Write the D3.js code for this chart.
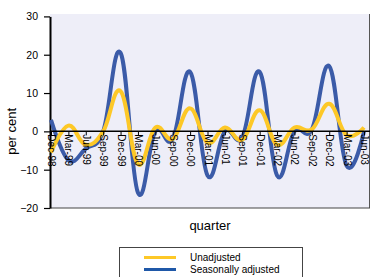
<!DOCTYPE html>
<html lang='en'>
<head>
    <meta charset='UTF-8'>
    <title>Quarterly change</title>
    <style>
        body {
            margin: 0;
            background: #fff;
            font-family: 'Liberation Sans', Arial, sans-serif;
        }
        .line {
            fill: none;
            stroke-width: 4px;
        }
    </style>
</head>
<body>
    <div id="chart"></div>
    <script src='https://d3js.org/d3.v7.min.js'></script>
    <script>
        const quarters = ['Dec-98', 'Mar-99', 'Jun-99', 'Sep-99', 'Dec-99', 'Mar-00', 'Jun-00', 'Sep-00',
            'Dec-00', 'Mar-01', 'Jun-01', 'Sep-01', 'Dec-01', 'Mar-02', 'Jun-02', 'Sep-02',
            'Dec-02', 'Mar-03', 'Jun-03']
        const unadjusted = [-5.5, 1.5, -3.5, 0, 10.5, -8.5, 1, -2, 6, -3, 1, -2.2, 5.5, -3.5, 1, 0.5, 7.2, -1, 1]
        const seasonal = [3, -7.5, -4.5, 0, 20.5, -16, 0, -2, 15.5, -11.5, 0, -1.5, 15.5, -11.5, 0, 0.5, 17, -9, 0]
        const yTicks = [30, 20, 10, 0, -10, -20]

        const width = 370
        const height = 277
        const plot = { left: 50, right: 370, top: 14, bottom: 208 }

        const svg = d3.select('#chart')
            .append('svg')
            .attr('width', width)
            .attr('height', height)

        const x = d3.scalePoint()
            .domain(quarters)
            .range([51, 364])

        const y = d3.scaleLinear()
            .domain([-20, 30])
            .range([208, 16.4])

        // plot background
        svg.append('rect')
            .attr('x', plot.left)
            .attr('y', plot.top)
            .attr('width', plot.right - plot.left)
            .attr('height', plot.bottom - plot.top)
            .attr('fill', '#eeeef8')
        svg.append('line')
            .attr('x1', plot.right - 0.5).attr('x2', plot.right - 0.5)
            .attr('y1', plot.top).attr('y2', plot.bottom)
            .attr('stroke', '#555').attr('stroke-width', 1)
        svg.append('line')
            .attr('x1', plot.left).attr('x2', plot.right)
            .attr('y1', plot.bottom).attr('y2', plot.bottom)
            .attr('stroke', '#444').attr('stroke-width', 1)

        // y axis
        const yAxis = svg.append('g')
            .attr('transform', `translate(${plot.left}, 0)`)
            .call(d3.axisLeft(y).tickValues(yTicks).tickSize(6).tickSizeOuter(0).tickPadding(6))
        yAxis.select('.domain').attr('stroke', '#000').attr('stroke-width', 2)
        yAxis.selectAll('.tick line').attr('stroke', '#000').attr('stroke-width', 1.2)
        yAxis.selectAll('text')
            .attr('font-family', "'Liberation Sans', Arial, sans-serif")
            .attr('font-size', 10.5)
            .attr('fill', '#000')

        svg.append('text')
            .attr('transform', `translate(16, ${y(0)}) rotate(-90)`)
            .attr('text-anchor', 'middle')
            .attr('font-size', 13)
            .text('per cent')

        // smoothed like the spreadsheet original
        const line = d3.line()
            .x((d, i) => x(quarters[i]))
            .y(d => y(d))
            .curve(d3.curveCardinal.tension(-0.2))

        svg.append('path')
            .datum(seasonal)
            .attr('class', 'line')
            .attr('stroke', '#3b5ba8')
            .attr('d', line)

        svg.append('path')
            .datum(unadjusted)
            .attr('class', 'line')
            .attr('stroke', '#fdc827')
            .attr('d', line)

        // x axis along zero
        const xAxis = svg.append('g')
            .attr('transform', `translate(0, ${y(0)})`)
            .call(d3.axisBottom(x).tickSize(4).tickSizeOuter(0))
        xAxis.select('.domain')
            .attr('d', `M${plot.left},0H${plot.right}`)
            .attr('stroke', '#000').attr('stroke-width', 1.5)
        xAxis.selectAll('.tick line').attr('stroke', '#000')
        xAxis.selectAll('text')
            .attr('font-family', "'Liberation Sans', Arial, sans-serif")
            .attr('font-size', 10)
            .attr('fill', '#000')
            .attr('text-anchor', 'start')
            .attr('dy', '0.35em')
            .attr('y', 0)
            .attr('transform', 'translate(0, 3) rotate(90)')

        svg.append('text')
            .attr('x', 210)
            .attr('y', 230)
            .attr('text-anchor', 'middle')
            .attr('font-size', 13)
            .text('quarter')

        // legend
        const legend = svg.append('g')
        legend.append('rect')
            .attr('x', 119.5)
            .attr('y', 247.5)
            .attr('width', 183)
            .attr('height', 40)
            .attr('fill', '#fff')
            .attr('stroke', '#444')
        const items = [
            { name: 'Unadjusted', color: '#fdc827' },
            { name: 'Seasonally adjusted', color: '#1f58a8' }
        ]
        items.forEach((d, i) => {
            const ly = 257.5 + i * 12
            legend.append('line')
                .attr('x1', 144).attr('x2', 176)
                .attr('y1', ly).attr('y2', ly)
                .attr('stroke', d.color).attr('stroke-width', 3)
            legend.append('text')
                .attr('x', 190)
                .attr('y', ly + 3.5)
                .attr('font-size', 10)
                .text(d.name)
        })
    </script>
</body>
</html>
